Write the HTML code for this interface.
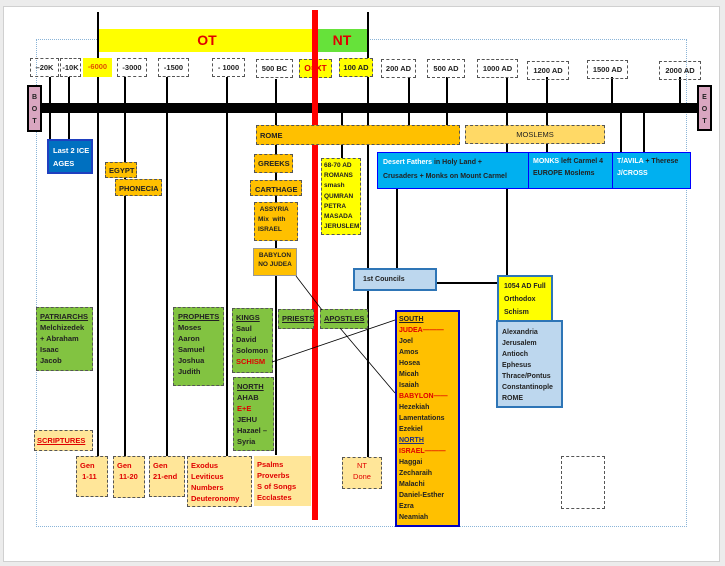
<!DOCTYPE html>
<html><head><meta charset="utf-8"><style>
body{margin:0;width:725px;height:566px;background:#ececec;position:relative;overflow:hidden;font-family:"Liberation Sans",sans-serif;}
.p{position:absolute;left:3px;top:6px;width:715px;height:554px;background:#fff;border:1px solid #d0d0d0}
.a{position:absolute;box-sizing:border-box;font-size:7.5px;line-height:11px;color:#222;font-weight:bold}
.d{border:1px dashed #555}
.l{position:absolute;background:#000}
.dt{text-align:center;line-height:17px;font-size:7.5px}
.or{background:#ffc000}
.lo{background:#ffe699}
.gr{background:#82c341}
.r{color:#e00000}
u{text-decoration:underline}
</style></head><body>
<div class="p"></div>
<div class="a" style="left:36px;top:39px;width:651px;height:488px;border:1px dotted #8ab4d8"></div>
<!-- OT/NT -->
<div class="a" style="left:98px;top:29px;width:218px;height:23px;background:#ffff00;color:#e00000;font-size:14px;line-height:23px;text-align:center">OT</div>
<div class="a" style="left:316px;top:29px;width:52px;height:23px;background:#66e23a;color:#e00000;font-size:14px;line-height:23px;text-align:center">NT</div>
<!-- vertical lines -->
<div class="l" style="left:97px;top:12px;width:2px;height:444px"></div>
<div class="l" style="left:367px;top:12px;width:2px;height:300px"></div>
<div class="l" style="left:367px;top:290px;width:2px;height:167px"></div>
<div class="l" style="left:49px;top:77px;width:2px;height:62px"></div>
<div class="l" style="left:68px;top:77px;width:2px;height:62px"></div>
<div class="l" style="left:124px;top:77px;width:2px;height:379px"></div>
<div class="l" style="left:166px;top:77px;width:2px;height:379px"></div>
<div class="l" style="left:226px;top:77px;width:2px;height:379px"></div>
<div class="l" style="left:275px;top:79px;width:2px;height:376px"></div>
<div class="l" style="left:341px;top:110px;width:2px;height:48px"></div>
<div class="l" style="left:408px;top:77px;width:2px;height:48px"></div>
<div class="l" style="left:446px;top:77px;width:2px;height:48px"></div>
<div class="l" style="left:506px;top:77px;width:2px;height:200px"></div>
<div class="l" style="left:546px;top:77px;width:2px;height:77px"></div>
<div class="l" style="left:611px;top:77px;width:2px;height:36px"></div>
<div class="l" style="left:620px;top:110px;width:2px;height:44px"></div>
<div class="l" style="left:643px;top:110px;width:2px;height:44px"></div>
<div class="l" style="left:679px;top:77px;width:2px;height:36px"></div>
<div class="l" style="left:396px;top:188px;width:2px;height:80px"></div>
<div class="l" style="left:436px;top:282px;width:61px;height:2px"></div>
<!-- timeline -->
<div class="l" style="left:42px;top:103px;width:655px;height:10px"></div>
<div class="a" style="left:27px;top:85px;width:15px;height:47px;background:#d9a6c0;border:2px solid #000;font-size:7px;line-height:12px;text-align:center;padding-top:5px">B<br>O<br>T</div>
<div class="a" style="left:697px;top:85px;width:15px;height:46px;background:#d9a6c0;border:2px solid #000;font-size:7px;line-height:12px;text-align:center;padding-top:5px">E<br>O<br>T</div>
<!-- dates -->
<div class="a d dt" style="left:30px;top:58px;width:29px;height:19px">–20K</div>
<div class="a d dt" style="left:60px;top:58px;width:21px;height:19px">-10K</div>
<div class="a dt" style="left:83px;top:58px;width:29px;height:19px;background:#ffff00;color:#e05000">-6000</div>
<div class="a d dt" style="left:117px;top:58px;width:30px;height:19px">-3000</div>
<div class="a d dt" style="left:158px;top:58px;width:31px;height:19px">-1500</div>
<div class="a d dt" style="left:212px;top:58px;width:33px;height:19px">- 1000</div>
<div class="a d dt" style="left:256px;top:59px;width:37px;height:19px">500 BC</div>
<div class="a d dt" style="left:299px;top:59px;width:33px;height:19px;background:#ffff00;color:#e00000;font-size:8.5px">O=XT</div>
<div class="a d dt" style="left:339px;top:58px;width:34px;height:19px;background:#ffff00">100 AD</div>
<div class="a d dt" style="left:381px;top:59px;width:35px;height:19px">200 AD</div>
<div class="a d dt" style="left:427px;top:59px;width:38px;height:19px">500 AD</div>
<div class="a d dt" style="left:477px;top:59px;width:41px;height:19px">1000 AD</div>
<div class="a d dt" style="left:527px;top:61px;width:42px;height:19px">1200 AD</div>
<div class="a d dt" style="left:587px;top:60px;width:41px;height:19px">1500 AD</div>
<div class="a d dt" style="left:659px;top:61px;width:42px;height:19px">2000 AD</div>
<!-- red line -->
<div class="l" style="left:312px;top:10px;width:6px;height:510px;background:#f00"></div>
<!-- boxes -->
<div class="a" style="left:47px;top:139px;width:46px;height:35px;background:#0070c0;border:2px solid #1f3fbf;color:#fff;padding:3px 0 0 4px;line-height:13px">Last 2 ICE AGES</div>
<div class="a d or" style="left:105px;top:162px;width:32px;height:16px;padding:2px 3px">EGYPT</div>
<div class="a d or" style="left:115px;top:179px;width:47px;height:17px;padding:3px 3px">PHONECIA</div>
<div class="a d or" style="left:256px;top:125px;width:204px;height:20px;padding:4px 3px">ROME</div>
<div class="a d" style="left:465px;top:125px;width:140px;height:19px;background:#ffd966;text-align:center;line-height:17px;font-weight:normal">MOSLEMS</div>
<div class="a d or" style="left:254px;top:154px;width:39px;height:19px;padding:3px 3px">GREEKS</div>
<div class="a d or" style="left:250px;top:180px;width:52px;height:16px;padding:3px 4px;line-height:12px">CARTHAGE</div>
<div class="a d or" style="left:254px;top:202px;width:44px;height:39px;padding:2px 3px;line-height:10px;font-size:6.5px">&nbsp;ASSYRIA Mix &nbsp;with ISRAEL</div>
<div class="a or" style="left:253px;top:248px;width:44px;height:28px;padding:2px 3px;line-height:9px;font-size:6.5px;border:1px solid #999;text-align:center">BABYLON NO JUDEA</div>
<div class="a d" style="left:321px;top:158px;width:40px;height:77px;background:#ffff00;padding:2px 2px;line-height:10.2px;font-size:6.5px">68-70 AD ROMANS smash QUMRAN PETRA MASADA JERUSLEM</div>
<div class="a" style="left:377px;top:152px;width:151px;height:37px;background:#00b0f0;border:1px solid #0000ff;border-right:none;padding:3px 0 0 5px;line-height:14px;font-size:7px;color:#fff">Desert Fathers <span style="color:#222">in Holy Land +</span><br><span style="color:#222">Crusaders + Monks on Mount Carmel</span></div>
<div class="a" style="left:528px;top:152px;width:84px;height:37px;background:#00b0f0;border:1px solid #0000ff;border-right:none;padding:3px 0 0 4px;line-height:12px;font-size:7px;color:#fff">MONKS <span style="color:#222">left Carmel 4 EUROPE Moslems</span></div>
<div class="a" style="left:612px;top:152px;width:79px;height:37px;background:#00b0f0;border:1px solid #0000ff;padding:3px 0 0 4px;line-height:12px;font-size:7px;color:#fff">T/AVILA <span style="color:#222">+ Therese</span><br>J/CROSS</div>
<div class="a" style="left:353px;top:268px;width:84px;height:23px;background:#bdd7ee;border:2px solid #2e75b6;padding:4px 0 0 8px;font-size:7px">1st Councils</div>
<div class="a" style="left:497px;top:275px;width:56px;height:46px;background:#ffff00;border:2px solid #2e75b6;border-bottom:none;padding:3px 0 0 5px;line-height:13px;font-size:7px">1054 AD Full Orthodox Schism</div>
<div class="a" style="left:496px;top:320px;width:67px;height:88px;background:#bdd7ee;border:2px solid #2e75b6;padding:5px 0 0 4px;line-height:11px;font-size:7px">Alexandria<br>Jerusalem<br>Antioch<br>Ephesus<br>Thrace/Pontus<br>Constantinople<br>ROME</div>
<div class="a d gr" style="left:36px;top:307px;width:57px;height:64px;padding:3px 3px">
<u>PATRIARCHS</u><br>Melchizedek<br>+ Abraham<br>Isaac<br>Jacob</div>
<div class="a d gr" style="left:173px;top:307px;width:51px;height:79px;padding:3px 4px"><u>PROPHETS</u><br>Moses<br>Aaron<br>Samuel<br>Joshua<br>Judith</div>
<div class="a d gr" style="left:232px;top:308px;width:41px;height:65px;padding:3px 3px"><u>KINGS</u><br>Saul<br>David<br>Solomon<br><span class="r">SCHISM</span></div>
<div class="a d gr" style="left:278px;top:309px;width:36px;height:20px;padding:3px 3px"><u>PRIESTS</u></div>
<div class="a d gr" style="left:320px;top:309px;width:48px;height:20px;padding:3px 3px"><u>APOSTLES</u></div>
<div class="a d gr" style="left:233px;top:377px;width:41px;height:74px;padding:3px 3px"><u>NORTH</u><br>AHAB<br><span class="r">E+E</span><br>JEHU<br>Hazael –<br>Syria</div>
<div class="a or" style="left:395px;top:310px;width:65px;height:217px;border:2px solid #0000c0;padding:2px 2px;line-height:11px;font-size:7px"><u>SOUTH</u><br><span class="r">JUDEA———</span><br>Joel<br>Amos<br>Hosea<br>Micah<br>Isaiah<br><span class="r">BABYLON——</span><br>Hezekiah<br>Lamentations<br>Ezekiel<br><u style="color:#203080">NORTH</u><br><span class="r">ISRAEL———</span><br>Haggai<br>Zecharaih<br>Malachi<br>Daniel-Esther<br>Ezra<br>Neamiah</div>
<div class="a d lo r" style="left:34px;top:430px;width:59px;height:21px;padding:4px 2px"><u>SCRIPTURES</u></div>
<div class="a d lo r" style="left:76px;top:456px;width:32px;height:41px;padding:3px 3px">Gen<br>&nbsp;1-11</div>
<div class="a d lo r" style="left:113px;top:456px;width:32px;height:42px;padding:3px 3px">Gen<br>&nbsp;11-20</div>
<div class="a d lo r" style="left:149px;top:456px;width:36px;height:41px;padding:3px 3px">Gen<br>21-end</div>
<div class="a d lo r" style="left:187px;top:456px;width:65px;height:51px;padding:3px 3px">Exodus<br>Leviticus<br>Numbers<br>Deuteronomy</div>
<div class="a lo r" style="left:254px;top:456px;width:57px;height:50px;padding:3px 3px">Psalms<br>Proverbs<br>S of Songs<br>Ecclastes</div>
<div class="a d lo r" style="left:342px;top:457px;width:40px;height:32px;padding:2px 0;text-align:center;font-weight:normal">NT<br>Done</div>
<div class="a d" style="left:561px;top:456px;width:44px;height:53px"></div>
<svg style="position:absolute;left:0;top:0" width="725" height="566">
<line x1="296" y1="276" x2="322" y2="310" stroke="#000" stroke-width="0.8"/>
<line x1="272" y1="362" x2="395" y2="320" stroke="#000" stroke-width="0.8"/>
<line x1="340" y1="328" x2="395" y2="393" stroke="#000" stroke-width="0.8"/>
</svg>
</body></html>
